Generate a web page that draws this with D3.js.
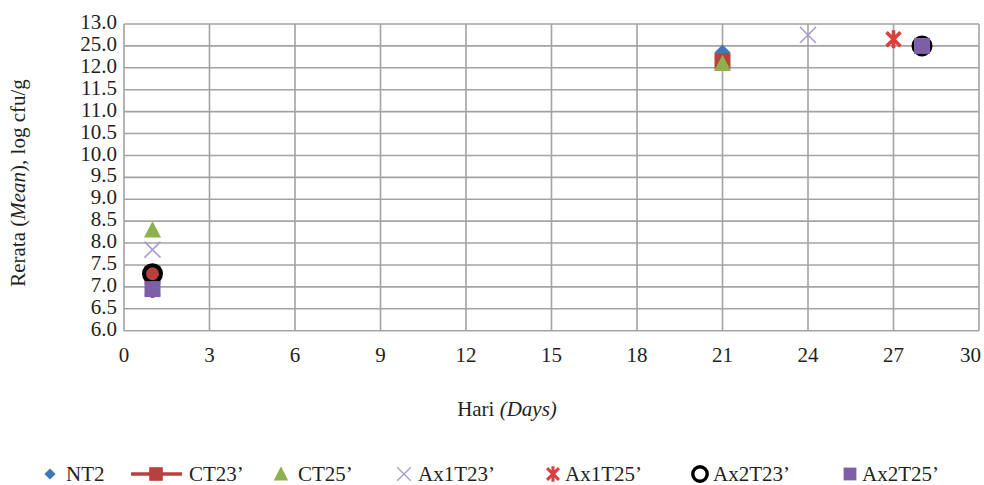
<!DOCTYPE html>
<html>
<head>
<meta charset="utf-8">
<script src="https://cdn.jsdelivr.net/npm/d3@7"></script>
<style>
  html, body { margin: 0; padding: 0; background: #ffffff; }
  svg { display: block; }
  text { font-family: "Liberation Serif", "Times New Roman", serif; fill: #231f20; }
</style>
</head>
<body>
<svg id="chart" width="984" height="485"></svg>
<script>
// Series names and their measurements (day, mean log cfu/g)
const seriesNames = ["NT2", "CT23\u2019", "CT25\u2019", "Ax1T23\u2019", "Ax1T25\u2019", "Ax2T23\u2019", "Ax2T25\u2019"];
const NT2     = [[1, 7.3],  [21, 12.35]];
const CT23    = [[1, 7.3],  [21, 12.15]];
const CT25    = [[1, 8.3],  [21, 12.1]];
const Ax1T23  = [[1, 7.85], [24, 12.75]];
const Ax1T25  = [[1, 6.95], [27, 12.65]];
const Ax2T23  = [[1, 7.3],  [28, 12.5]];
const Ax2T25  = [[1, 6.95], [28, 12.5]];
const seriesValues = [NT2, CT23, CT25, Ax1T23, Ax1T25, Ax2T23, Ax2T25];

// Axis ticks
const xTicks = [0, 3, 6, 9, 12, 15, 18, 21, 24, 27, 30];
const yTicks = [6.0, 6.5, 7.0, 7.5, 8.0, 8.5, 9.0, 9.5, 10.0, 10.5, 11.0, 11.5, 12.0, 12.5, 13.0];
const yTickLabels = ["6.0", "6.5", "7.0", "7.5", "8.0", "8.5", "9.0", "9.5", "10.0", "10.5", "11.0", "11.5", "12.0", "25.0", "13.0"];

const svg = d3.select("#chart");
const W = 984;
const plot = { left: 124, right: 979, top: 24, bottom: 330.7 };

const x = d3.scaleLinear().domain([0, 30]).range([plot.left, plot.right]);
const y = d3.scaleLinear().domain([6, 13]).range([plot.bottom, plot.top]);

const gridColor = "#a3a3a3";
const fs = 21;  // label font size

// Horizontal gridlines
svg.append("g").selectAll("line").data(yTicks).join("line")
  .attr("x1", plot.left).attr("x2", plot.right)
  .attr("y1", d => y(d)).attr("y2", d => y(d))
  .attr("stroke", gridColor).attr("stroke-width", 1.6);

// Vertical gridlines
svg.append("g").selectAll("line").data(xTicks).join("line")
  .attr("x1", d => x(d)).attr("x2", d => x(d))
  .attr("y1", plot.top).attr("y2", plot.bottom)
  .attr("stroke", gridColor).attr("stroke-width", 1.6);

// Y tick labels (right aligned next to the plot)
svg.append("g").selectAll("text").data(yTicks).join("text")
  .attr("x", plot.left - 7)
  .attr("y", d => y(d) - 2)
  .attr("dy", "0.34em")
  .attr("text-anchor", "end")
  .attr("font-size", fs)
  .text((d, i) => yTickLabels[i]);

// X tick labels, kept inside the page at the right edge
svg.append("g").selectAll("text").data(xTicks).join("text")
  .attr("text-anchor", "middle")
  .attr("font-size", fs)
  .attr("y", 362)
  .text(d => d)
  .each(function (d) {
    const half = this.getComputedTextLength() / 2;
    d3.select(this).attr("x", Math.min(x(d), W - 3 - half));
  });

// Axis titles
const xt = svg.append("text")
  .attr("x", 507).attr("y", 416)
  .attr("text-anchor", "middle").attr("font-size", fs);
xt.append("tspan").text("Hari ");
xt.append("tspan").attr("font-style", "italic").text("(Days)");

const yt = svg.append("text")
  .attr("transform", "translate(25,183) rotate(-90)")
  .attr("text-anchor", "middle").attr("font-size", fs);
yt.append("tspan").text("Rerata (");
yt.append("tspan").attr("font-style", "italic").text("Mean");
yt.append("tspan").text("), log cfu/g");

// Marker drawers, one per series
const markers = [
  // diamond
  (g) => g.append("path").attr("d", "M0,-8L8,0L0,8L-8,0Z").attr("fill", "#3f78b5"),
  // square
  (g) => g.append("rect").attr("x", -8).attr("y", -8).attr("width", 16).attr("height", 16).attr("fill", "#b8403d"),
  // triangle
  (g) => g.append("path").attr("d", "M0,-9L8.5,7.5L-8.5,7.5Z").attr("fill", "#8fb04e"),
  // x
  (g) => g.append("path").attr("d", "M-8,-8L8,8M-8,8L8,-8").attr("stroke", "#a99bd0").attr("stroke-width", 1.6).attr("fill", "none"),
  // star (x + vertical)
  (g) => g.append("path").attr("d", "M-7,-7L7,7M-7,7L7,-7M0,-9L0,9").attr("stroke", "#d9413e").attr("stroke-width", 3.6).attr("fill", "none"),
  // ring
  (g) => g.append("circle").attr("r", 8.5).attr("fill", "none").attr("stroke", "#000").attr("stroke-width", 4),
  // square
  (g) => g.append("rect").attr("x", -8).attr("y", -8).attr("width", 16).attr("height", 16).attr("fill", "#7d5fa8")
];

// Data points
seriesValues.forEach((vals, i) => {
  const g = svg.append("g").attr("class", "series");
  vals.forEach(([day, val]) => {
    const m = g.append("g").attr("transform", `translate(${x(day)},${y(val)})`);
    markers[i](m);
  });
});

// Legend
const legendX = [50, 156, 281, 404, 553, 700, 850];
const legendTextX = [66, 189, 298, 418, 565, 713, 862];
const legendY = 474;
const legendScale = [0.7, 0.85, 0.85, 0.85, 0.85, 0.85, 0.8];
seriesNames.forEach((name, i) => {
  const g = svg.append("g").attr("transform", `translate(${legendX[i]},${legendY})`);
  if (i === 1) {
    g.append("line").attr("x1", -25).attr("x2", 26).attr("y1", 0).attr("y2", 0)
      .attr("stroke", "#b8403d").attr("stroke-width", 3.5);
  }
  const m = g.append("g").attr("transform", `scale(${legendScale[i]})`);
  markers[i](m);
  svg.append("text")
    .attr("x", legendTextX[i]).attr("y", 481)
    .attr("font-size", fs).text(name);
});
</script>
</body>
</html>
